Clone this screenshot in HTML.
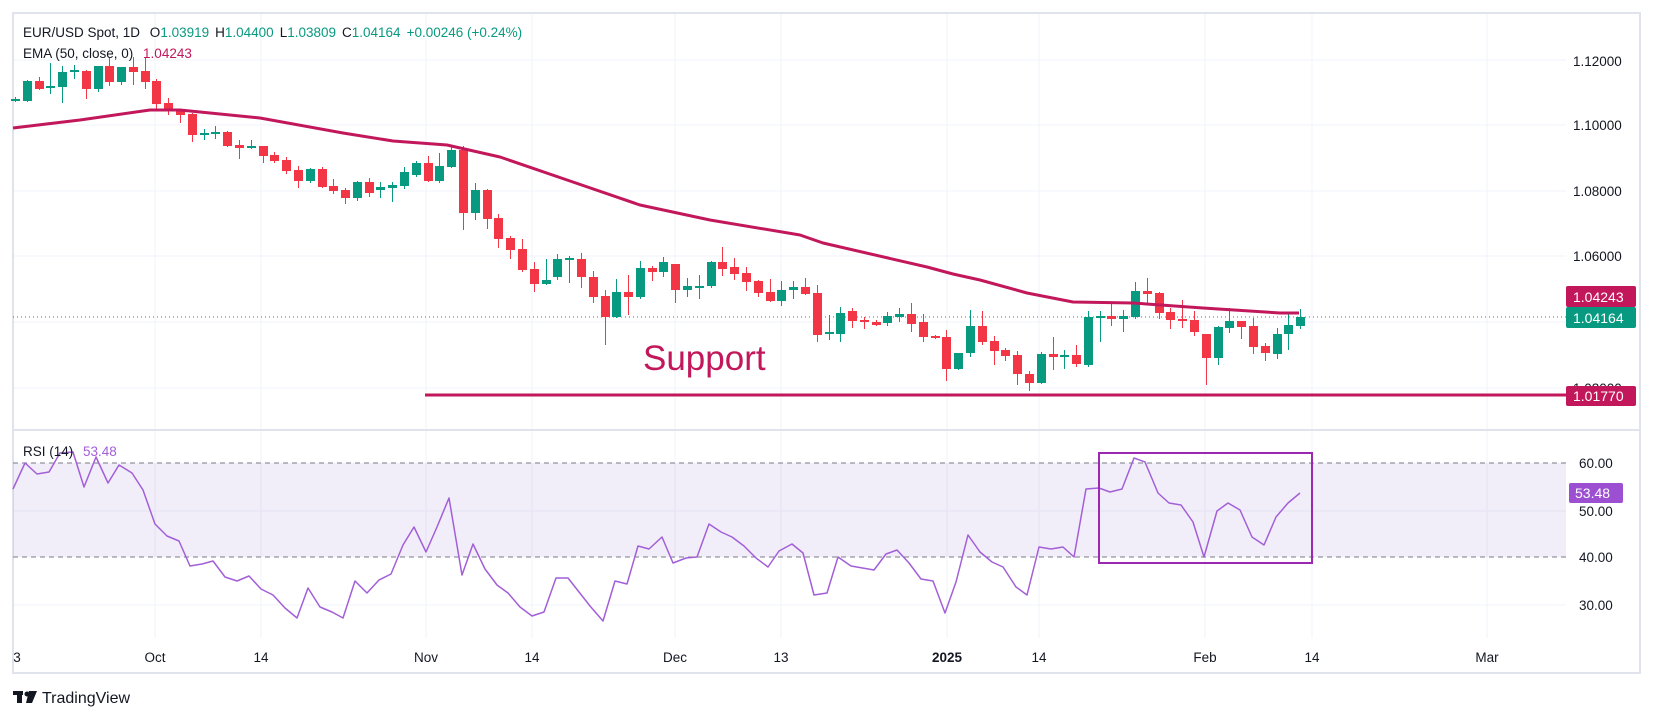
<!DOCTYPE html>
<html><head><meta charset="utf-8"><style>
html,body{margin:0;padding:0;background:#fff;width:1654px;height:718px;overflow:hidden}
svg{display:block;font-family:"Liberation Sans",sans-serif}
</style></head><body>
<svg id="s" width="1654" height="718" viewBox="0 0 1654 718" xmlns="http://www.w3.org/2000/svg">
<rect x="0" y="0" width="1654" height="718" fill="#fff"/>
<g id="grid" stroke="#f0f3fa" stroke-width="1"></g>
<rect x="13" y="13" width="1627" height="660" fill="none" stroke="#e0e3eb" stroke-width="2"/>
<line x1="13" y1="430" x2="1640" y2="430" stroke="#e0e3eb" stroke-width="2"/>
<rect x="13" y="463" width="1553" height="94" fill="rgba(126,87,194,0.1)"/>
<g stroke="#787b86" stroke-width="1" stroke-dasharray="5,4">
<line x1="13" y1="463" x2="1566" y2="463"/><line x1="13" y1="557" x2="1566" y2="557"/></g>
<g id="cndl"></g>
<polyline id="ema" fill="none" stroke="#c2185b" stroke-width="3" stroke-linejoin="round"/>
<line x1="13" y1="317" x2="1566" y2="317" stroke="#089981" stroke-width="1" stroke-dasharray="1,3"/>
<line x1="425" y1="395" x2="1566" y2="395" stroke="#c2185b" stroke-width="3"/>
<text x="643" y="370" font-size="35" fill="#c2185b">Support</text>
<polyline id="rsi" fill="none" stroke="#a25fd8" stroke-width="1.5" stroke-linejoin="round"/>
<rect x="1099" y="453" width="213" height="110" fill="none" stroke="#9c27b0" stroke-width="2"/>
<g font-size="13.5" fill="#131722">
<text x="23" y="37">EUR/USD Spot, 1D <tspan dx="6">O</tspan><tspan fill="#089981">1.03919</tspan><tspan dx="6">H</tspan><tspan fill="#089981">1.04400</tspan><tspan dx="6">L</tspan><tspan fill="#089981">1.03809</tspan><tspan dx="6">C</tspan><tspan fill="#089981">1.04164</tspan><tspan dx="6" fill="#089981">+0.00246 (+0.24%)</tspan></text>
<text x="23" y="58">EMA (50, close, 0) <tspan dx="6" fill="#c2185b">1.04243</tspan></text>
<text x="23" y="456">RSI (14) <tspan dx="6" fill="#a25fd8">53.48</tspan></text>
<text x="1573" y="66">1.12000</text><text x="1573" y="130">1.10000</text><text x="1573" y="196">1.08000</text><text x="1573" y="261">1.06000</text><text x="1573" y="393">1.02000</text>
<text x="1579" y="468">60.00</text><text x="1579" y="516">50.00</text><text x="1579" y="562">40.00</text><text x="1579" y="610">30.00</text>
</g>
<rect x="1566" y="286" width="70" height="21" rx="2" fill="#c2185b"/><text x="1573" y="302" font-size="14" fill="#fff">1.04243</text>
<rect x="1566" y="307" width="70" height="21" rx="2" fill="#089981"/><text x="1573" y="323" font-size="14" fill="#fff">1.04164</text>
<rect x="1566" y="386" width="70" height="20" rx="2" fill="#c2185b"/><text x="1573" y="401" font-size="14" fill="#fff">1.01770</text>
<rect x="1569" y="483" width="54" height="20" rx="2" fill="#9c4fd0"/><text x="1575" y="498" font-size="14" fill="#fff">53.48</text>
<g font-size="13.5" fill="#131722" text-anchor="middle">
<text x="17" y="662">3</text><text x="155" y="662">Oct</text><text x="261" y="662">14</text><text x="426" y="662">Nov</text><text x="532" y="662">14</text><text x="675" y="662">Dec</text><text x="781" y="662">13</text><text x="947" y="662" font-weight="bold">2025</text><text x="1039" y="662">14</text><text x="1205" y="662">Feb</text><text x="1312" y="662">14</text><text x="1487" y="662">Mar</text>
</g>
<g fill="#131722"><rect x="13" y="691" width="10" height="4"/><rect x="17" y="691" width="5" height="12"/><circle cx="27" cy="694" r="2.5"/><polygon points="29,691 37,691 32,703 26,703"/></g>
<text x="42" y="703" font-size="16" fill="#131722">TradingView</text>
</svg>
<script>
var NS="http://www.w3.org/2000/svg";
function el(p,t,a){var e=document.createElementNS(NS,t);for(var k in a)e.setAttribute(k,a[k]);p.appendChild(e);return e;}
var g=document.getElementById('grid');
[155,261,426,532,675,781,947,1039,1205,1312,1487].forEach(function(x){el(g,'line',{x1:x,y1:13,x2:x,y2:638});});
[60,125,191,256,322,388].forEach(function(y){el(g,'line',{x1:13,y1:y,x2:1566,y2:y});});
[511,605].forEach(function(y){el(g,'line',{x1:13,y1:y,x2:1566,y2:y});});
var D="g99,101,97,101;g81,101,80,101;r81,89,77,89;g86,88,63,93;g72,87,66,102;g70,72,65,78;r71,89,70,98;g66,89,66,91;r66,82,57,85;g67,82,67,84;r67,72,57,84;r71,82,57,88;r81,104,79,110;r103,110,98,114;r110,115,109,122;r114,135,113,141;g133,135,129,139;g132,134,126,138;r132,146,131,146;r145,148,140,158;g146,148,140,148;r146,156,146,162;r155,161,152,162;r160,171,157,173;r170,181,166,187;g169,181,168,182;r169,187,167,187;r186,191,179,193;r190,198,188,203;g182,198,181,200;r182,193,178,196;g187,190,182,197;g185,188,182,201;g172,186,167,188;g163,175,161,176;r163,181,156,181;g166,181,153,182;g150,167,146,167;r150,213,146,229;g190,213,183,219;r190,219,189,228;r218,239,214,247;r238,250,236,258;r249,270,239,271;r269,284,262,291;g280,284,259,284;g259,277,254,279;g258,260,256,282;r259,277,253,287;r277,297,271,302;r296,317,290,344;g292,317,279,317;r292,297,275,314;g268,297,261,298;r268,272,266,280;g262,272,257,276;r264,290,264,302;g286,290,278,296;g286,288,275,298;g262,286,261,287;r262,269,247,275;r267,274,258,279;r273,282,267,290;r281,293,280,296;r292,301,279,301;g290,301,281,305;g287,290,281,298;r287,294,278,294;r293,335,285,341;g332,334,315,339;g313,334,307,341;r311,321,308,327;r320,322,317,328;r322,325,320,325;g316,323,312,325;g314,317,308,321;r314,324,303,331;r322,337,314,341;r336,338,335,338;r337,369,330,380;g353,369,353,369;g326,353,310,356;r326,342,311,344;r341,351,336,364;r350,356,348,360;r355,374,351,384;r374,383,371,390;g354,383,352,383;r354,357,337,369;g355,357,350,368;r355,364,345,366;g317,365,311,366;g316,318,311,341;r316,319,303,325;g316,319,310,331;g291,317,282,318;r291,294,278,303;r293,313,292,318;r312,320,308,328;r319,320,300,327;r320,332,311,335;r334,358,334,384;g327,358,326,364;g321,328,308,332;r321,327,321,338;r326,347,318,353;r346,353,343,360;g334,354,328,358;g325,334,312,349;g317,326,309,328".split(';');
var c=document.getElementById('cndl');
D.forEach(function(s,i){var col=s[0]=='g'?'#089981':'#f23645';var v=s.slice(1).split(',').map(Number);
var x=15+i*11.79;var cx=Math.round(x)+0.5;
el(c,'line',{x1:cx,y1:v[2],x2:cx,y2:v[3]+1,stroke:col,'stroke-width':1});
var h=Math.max(v[1]-v[0],2);el(c,'rect',{x:Math.round(x)-4,y:v[0],width:9,height:h,fill:col});});
document.getElementById('ema').setAttribute('points',"13,128 80,120 150,110 180,110 260,118 343,133 393,141 447,145 500,157 570,181 640,205 710,220 800,235 823,243 927,267 953,274 980,280 1027,293 1073,302 1133,303 1203,308 1280,313 1299,313");
document.getElementById('rsi').setAttribute('points',"13,489 25,463 37,474 49,472 60,453 73,452 84,487 96,457 108,483 119,465 132,473 143,490 155,524 167,536 179,541 190,566 202,564 213,561 225,577 237,581 249,576 261,589 273,595 285,608 297,618 308,588 320,607 332,612 343,618 355,581 367,593 379,580 391,574 403,545 414,527 426,552 437,527 449,498 462,575 473,544 485,569 497,585 508,593 520,607 532,616 544,612 556,578 568,578 590,606 603,621 615,581 627,584 638,546 649,549 662,537 673,563 686,558 697,557 709,524 721,532 732,537 744,546 756,558 768,567 779,551 792,544 803,553 814,595 827,593 838,557 851,566 874,570 886,554 897,550 909,563 921,579 933,581 945,613 956,582 968,535 980,552 992,562 1003,567 1016,587 1027,595 1039,547 1051,549 1063,547 1074,557 1086,489 1099,488 1110,492 1122,489 1134,458 1145,462 1158,493 1169,503 1181,505 1193,522 1204,557 1217,511 1228,503 1240,510 1252,537 1264,545 1276,517 1288,503 1300,493");
</script>
</body></html>
